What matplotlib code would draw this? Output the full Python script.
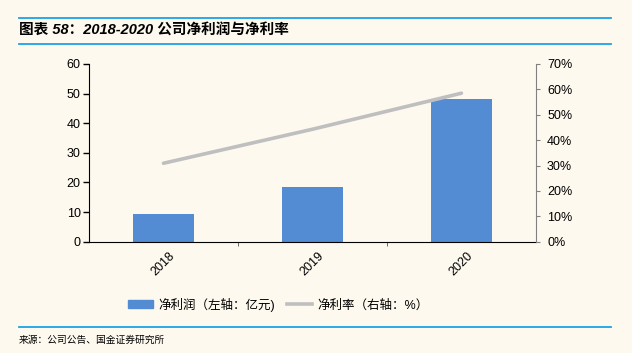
import numpy as np
import matplotlib.pyplot as plt
from matplotlib.lines import Line2D
from matplotlib.patches import Patch

plt.rcParams['font.family'] = ['Liberation Sans', 'Noto Sans CJK SC', 'DejaVu Sans']

# data
years = ['2018', '2019', '2020']
profit = [9.4, 18.4, 48.2]          # 净利润, 亿元
margin = [30.9, 44.3, 58.5]         # 净利率, %

bg = '#FDF9EF'
blue = '#538CD3'
grey = '#BFBFBF'
rule = '#1AA3E8'

fig = plt.figure(figsize=(6.32, 3.53), dpi=100, facecolor=bg)
ax = fig.add_axes([0.1408, 0.3153, 0.7072, 0.5034])
ax.set_facecolor(bg)
x = np.arange(len(years))

ax.bar(x, profit, width=0.41, color=blue, zorder=2)
ax.set_xlim(-0.5, 2.5)
ax.set_ylim(0, 60)
ax.set_yticks(range(0, 61, 10))
ax.set_xticks(x)
ax.set_xticklabels(years, rotation=45, fontsize=9)
ax.tick_params(axis='x', length=0, pad=6)
ax.set_xticks([0.5, 1.5], minor=True)
ax.tick_params(axis='x', which='minor', length=3, color='#555555', direction='out')
ax.tick_params(axis='y', length=4, width=1, color='black', labelsize=9, pad=2)
ax.spines['top'].set_visible(False)
ax.spines['right'].set_visible(False)
ax.spines['left'].set_color('black')
ax.spines['bottom'].set_color('black')

ax2 = ax.twinx()
ax2.plot(x, margin, color=grey, lw=2.6, solid_capstyle='round', zorder=3)
ax2.set_ylim(0, 70)
ax2.set_yticks(range(0, 71, 10))
ax2.set_yticklabels([f'{v}%' for v in range(0, 71, 10)])
ax2.tick_params(axis='y', length=3, color='#808080', labelsize=9, pad=5)
for s in ['top', 'left', 'bottom']:
    ax2.spines[s].set_visible(False)
ax2.spines['right'].set_color('#808080')

handles = [Patch(color=blue), Line2D([], [], color=grey, lw=2.6)]
labels = ['净利润（左轴：亿元)', '净利率（右轴：%）']
fig.legend(handles, labels, loc='center', bbox_to_anchor=(0.44, 0.137), ncol=2,
           frameon=False, fontsize=9, handlelength=2.0, handleheight=0.6,
           columnspacing=1.0, handletextpad=0.4)

# title block
for yy in [1 - 18 / 353, 1 - 44 / 353, 1 - 327 / 353]:
    fig.add_artist(Line2D([19 / 632, 611 / 632], [yy, yy], color=rule, lw=1.3))
fig.text(19 / 632, 1 - 31 / 353, '图表 58：2018-2020 公司净利润与净利率', fontsize=10.5,
         fontweight='bold', style='italic', va='center', ha='left')
fig.text(19 / 632, 1 - 340 / 353, '来源：公司公告、国金证券研究所', fontsize=7,
         family=['Noto Sans CJK SC'], va='center', ha='left')

fig.savefig('out.png', dpi=100, facecolor=bg)
